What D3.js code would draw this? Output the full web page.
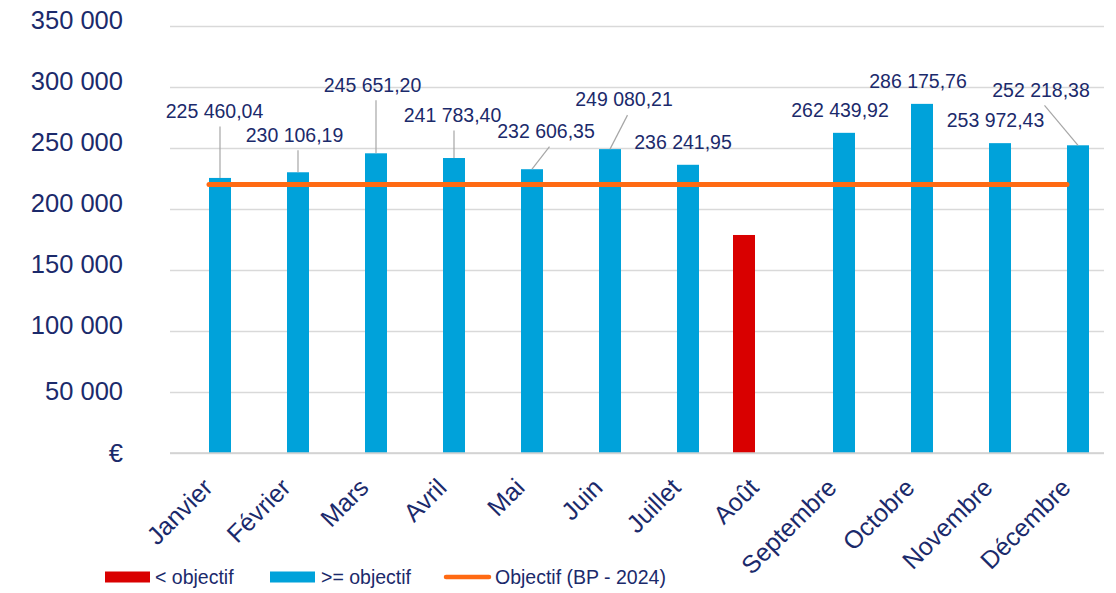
<!DOCTYPE html>
<html>
<head>
<meta charset="utf-8">
<script src="https://cdn.jsdelivr.net/npm/d3@7/dist/d3.min.js"></script>
<style>
  body { margin: 0; background: #fff; }
  text { font-family: "Liberation Sans", Arial, sans-serif; fill: #1b2a6b; }
</style>
</head>
<body>
<script>
// DONNEES

var mois = ["Janvier", "Février", "Mars", "Avril", "Mai", "Juin",
            "Juillet", "Août", "Septembre", "Octobre", "Novembre", "Décembre"];

// < objectif (seul Août)
var sousObjectif = [null, null, null, null, null, null, null, 178700, null, null, null, null];

// >= objectif
var surObjectif = [225460.04, 230106.19, 245651.20, 241783.40, 232606.35, 249080.21,
                   236241.95, null, 262439.92, 286175.76, 253972.43, 252218.38];

// Objectif (BP - 2024)
var objectif = [220000, 220000, 220000, 220000, 220000, 220000,
                220000, 220000, 220000, 220000, 220000, 220000];

var yTicks = [0, 50000, 100000, 150000, 200000, 250000, 300000, 350000];
var legende = ["< objectif", ">= objectif", "Objectif (BP - 2024)"];

// MISE EN PAGE

var W = 1116, H = 593;
var plot = {left: 170, right: 1106, top: 26, bottom: 453};

// decalage des etiquettes par rapport au haut de la barre [dx, dy]
var etiqPos = [[-5.5, -67], [-3.5, -37.5], [-3.5, -68.5], [-1.5, -43], [14, -38], [14, -49.5],
               [-5, -22.5], null, [-4, -23], [-4, -22.5], [-4.5, -23], [-37, -55.5]];
var avecRepere = [true, true, true, true, true, true, false, false, false, false, false, true];

var couleurs = {sous: "#d90000", sur: "#00a2da", obj: "#ff6a13", grille: "#d9d9d9", texte: "#1b2a6b"};

var fr = d3.formatLocale({decimal: ",", thousands: " ", grouping: [3], currency: ["", " €"]});
var fmtAxe = fr.format(",.0f");
var fmtVal = fr.format(",.2f");

var svg = d3.select("body").append("svg")
    .attr("width", W)
    .attr("height", H);

// ECHELLES

var x = d3.scaleBand().domain(mois).range([plot.left, plot.right]).paddingInner(0.436).paddingOuter(0.218);
var xs = d3.scaleBand().domain(["sous", "sur"]).range([0, 44]);
var y = d3.scaleLinear().domain([0, 350000]).range([plot.bottom, plot.top]);

function centre(m) { return x(m) + x.bandwidth() / 2; }

// GRILLE + AXE Y

var grille = svg.append("g")
    .attr("transform", "translate(" + plot.left + ",0)")
    .call(d3.axisLeft(y).tickValues(yTicks).tickSize(-(1104 - plot.left)).tickFormat(""));
grille.select(".domain").remove();
grille.selectAll("line").attr("stroke", couleurs.grille).attr("stroke-width", 1.5);

var axeY = svg.append("g")
    .attr("transform", "translate(" + plot.left + ",0)")
    .call(d3.axisLeft(y).tickValues(yTicks).tickSize(0).tickPadding(47)
      .tickFormat(function(d) { return d === 0 ? "€" : fmtAxe(d); }));
axeY.select(".domain").remove();
axeY.selectAll("text")
    .style("font-size", "25.5px")
    .attr("fill", couleurs.texte)
    .attr("dy", function(d) { return d === 0 ? "0.32em" : (d === 50000 ? "0.28em" : "0.08em"); });

// BARRES

svg.append("g").selectAll("rect.sous")
    .data(mois.map(function(m, i) { return {m: m, v: sousObjectif[i]}; }).filter(function(d) { return d.v != null; }))
    .join("rect")
    .attr("x", function(d) { return centre(d.m) - 22 + xs("sous"); })
    .attr("width", xs.bandwidth())
    .attr("y", function(d) { return y(d.v); })
    .attr("height", function(d) { return y(0) - y(d.v); })
    .attr("fill", couleurs.sous);

var sur = mois.map(function(m, i) { return {m: m, i: i, v: surObjectif[i]}; }).filter(function(d) { return d.v != null; });

svg.append("g").selectAll("rect.sur")
    .data(sur)
    .join("rect")
    .attr("x", function(d) { return centre(d.m) - 22 + xs("sur"); })
    .attr("width", xs.bandwidth())
    .attr("y", function(d) { return y(d.v); })
    .attr("height", function(d) { return y(0) - y(d.v); })
    .attr("fill", couleurs.sur);

// LIGNE OBJECTIF

var ligne = d3.line()
    .x(function(d, i) { return centre(mois[i]); })
    .y(function(d) { return y(d); });

svg.append("path")
    .datum(objectif)
    .attr("d", ligne)
    .attr("fill", "none")
    .attr("stroke", couleurs.obj)
    .attr("stroke-width", 5)
    .attr("stroke-linecap", "round");

// ETIQUETTES DE DONNEES

function barX(d) { return centre(d.m) - 22 + xs("sur") + xs.bandwidth() / 2; }
function etX(d) { return barX(d) + etiqPos[d.i][0]; }
function etY(d) { return y(d.v) + etiqPos[d.i][1]; }

svg.append("g").selectAll("line")
    .data(sur.filter(function(d) { return avecRepere[d.i]; }))
    .join("line")
    .attr("x1", function(d) { return Math.abs(etiqPos[d.i][0]) < 8 ? barX(d) : etX(d) + 3.5; })
    .attr("y1", function(d) { return etY(d) + 15.5; })
    .attr("x2", barX)
    .attr("y2", function(d) { return y(d.v); })
    .attr("stroke", "#a6a6a6")
    .attr("stroke-width", 1.2);

svg.append("g").selectAll("text")
    .data(sur)
    .join("text")
    .attr("x", etX)
    .attr("y", etY)
    .attr("dy", "0.35em")
    .attr("text-anchor", "middle")
    .style("font-size", "19.5px")
    .text(function(d) { return fmtVal(d.v); });

// AXE X

svg.append("line")
    .attr("x1", plot.left).attr("x2", 1104)
    .attr("y1", y(0)).attr("y2", y(0))
    .attr("stroke", "#d0d0d0").attr("stroke-width", 1.5);

svg.append("g").selectAll("text")
    .data(mois)
    .join("text")
    .attr("text-anchor", "end")
    .attr("transform", function(m) { return "translate(" + (centre(m) - 1) + ",483) rotate(-45)"; })
    .attr("dy", "0.35em")
    .style("font-size", "25px")
    .text(function(m) { return m; });

// LEGENDE

var leg = svg.append("g").attr("transform", "translate(0,577)");

leg.append("rect").attr("x", 105).attr("y", -5.5).attr("width", 45).attr("height", 11).attr("fill", couleurs.sous);
leg.append("text").attr("x", 155).attr("dy", "0.35em").style("font-size", "19.5px").text(legende[0]);

leg.append("rect").attr("x", 270).attr("y", -5.5).attr("width", 45).attr("height", 11).attr("fill", couleurs.sur);
leg.append("text").attr("x", 321).attr("dy", "0.35em").style("font-size", "19.5px").text(legende[1]);

leg.append("line").attr("x1", 446).attr("x2", 489).attr("y1", 0).attr("y2", 0)
    .attr("stroke", couleurs.obj).attr("stroke-width", 4.5).attr("stroke-linecap", "round");
leg.append("text").attr("x", 495).attr("dy", "0.35em").style("font-size", "19.5px").text(legende[2]);
</script>
</body>
</html>
